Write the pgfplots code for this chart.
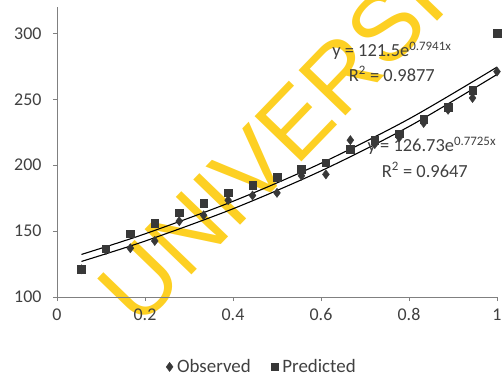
\documentclass[border=0pt]{standalone}
\usepackage{fontspec}
\setmainfont{Carlito}
\newfontfamily\wmfont{Liberation Sans}
\usepackage{pgfplots}
\pgfplotsset{compat=1.18}
\definecolor{txt}{HTML}{404040}
\definecolor{axc}{HTML}{808080}
\definecolor{mk}{HTML}{383838}
\definecolor{wm}{RGB}{253,208,35}
\begin{document}
\begin{tikzpicture}
\path[use as bounding box] (-57bp,-80bp) rectangle (445bp,297bp);
\node[rotate=46, text=wm, font=\wmfont\fontsize{95}{99}\selectfont, inner sep=0pt] at (256bp,194bp) {UNIVERSITY};
\begin{axis}[
  at={(0,0)}, anchor=south west,
  scale only axis, width=440bp, height=290bp,
  xmin=0, xmax=1, ymin=100, ymax=320,
  axis x line=bottom, axis y line=left,
  axis line style={axc, line width=0.8bp, -},
  xtick={0,0.2,0.4,0.6,0.8,1},
  xticklabels={0,0.2,0.4,0.6,0.8,1},
  ytick={100,150,200,250,300},
  tick align=outside, major tick length=4bp,
  tick style={axc, line width=0.8bp},
  /pgf/number format/assume math mode=true,
  ticklabel style={font=\fontsize{18}{20}\selectfont, text=txt},
  yticklabel style={xshift=-8bp},
  xticklabel style={yshift=-4bp},
  legend style={at={(axis description cs:0.468,-0.241)}, anchor=center, draw=none, fill=none,
    legend columns=2, font=\fontsize{19}{21}\selectfont, text=txt,
    /tikz/every even column/.append style={column sep=16bp},
    nodes={inner xsep=4bp}},
  legend cell align=left,
  clip=false,
]
\addplot[only marks, mark=diamond*, mark size=4.6bp, mark options={fill=mk, draw=mk}] coordinates {
(0.0556,121) (0.1111,135.5) (0.1667,137) (0.2222,142.5) (0.2778,157.5) (0.3333,162)
(0.3889,173.5) (0.4444,177) (0.5,179) (0.5556,192) (0.6111,193) (0.6667,219)
(0.7222,216) (0.7778,221) (0.8333,232) (0.8889,242) (0.9444,251) (1.0,271)};
\addlegendentry{Observed}
\addplot[only marks, mark=square*, mark size=3.8bp, mark options={fill=mk, draw=mk}] coordinates {
(0.0556,121) (0.1111,136.5) (0.1667,148) (0.2222,156) (0.2778,164) (0.3333,171)
(0.3889,179) (0.4444,185) (0.5,191) (0.5556,197) (0.6111,202) (0.6667,212)
(0.7222,219) (0.7778,224) (0.8333,235) (0.8889,244) (0.9444,257) (1.0,300)};
\addlegendentry{Predicted}
% trendline observed: y = 121.5 exp(0.7941x)
\addplot[smooth, black, line width=1.1bp, forget plot] coordinates {
(0.0556,126.98) (0.2,142.41) (0.4,166.93) (0.6,195.66) (0.8,229.34) (1.0,268.82)};
% trendline predicted: y = 126.73 exp(0.7725x)
\addplot[smooth, black, line width=1.1bp, forget plot] coordinates {
(0.0556,132.29) (0.2,147.90) (0.4,172.61) (0.6,201.45) (0.8,235.11) (1.0,274.39)};
\node[text=txt, font=\fontsize{18.5}{20}\selectfont] at (axis cs:0.761,286.6) {y = 121.5e\textsuperscript{0.7941x}};
\node[text=txt, font=\fontsize{18.5}{20}\selectfont] at (axis cs:0.761,269.2) {R\textsuperscript{2} = 0.9877};
\node[text=txt, font=\fontsize{18.5}{20}\selectfont] at (axis cs:0.852,214.6) {y = 126.73e\textsuperscript{0.7725x}};
\node[text=txt, font=\fontsize{18.5}{20}\selectfont] at (axis cs:0.836,196.4) {R\textsuperscript{2} = 0.9647};
\end{axis}
\end{tikzpicture}
\end{document}
